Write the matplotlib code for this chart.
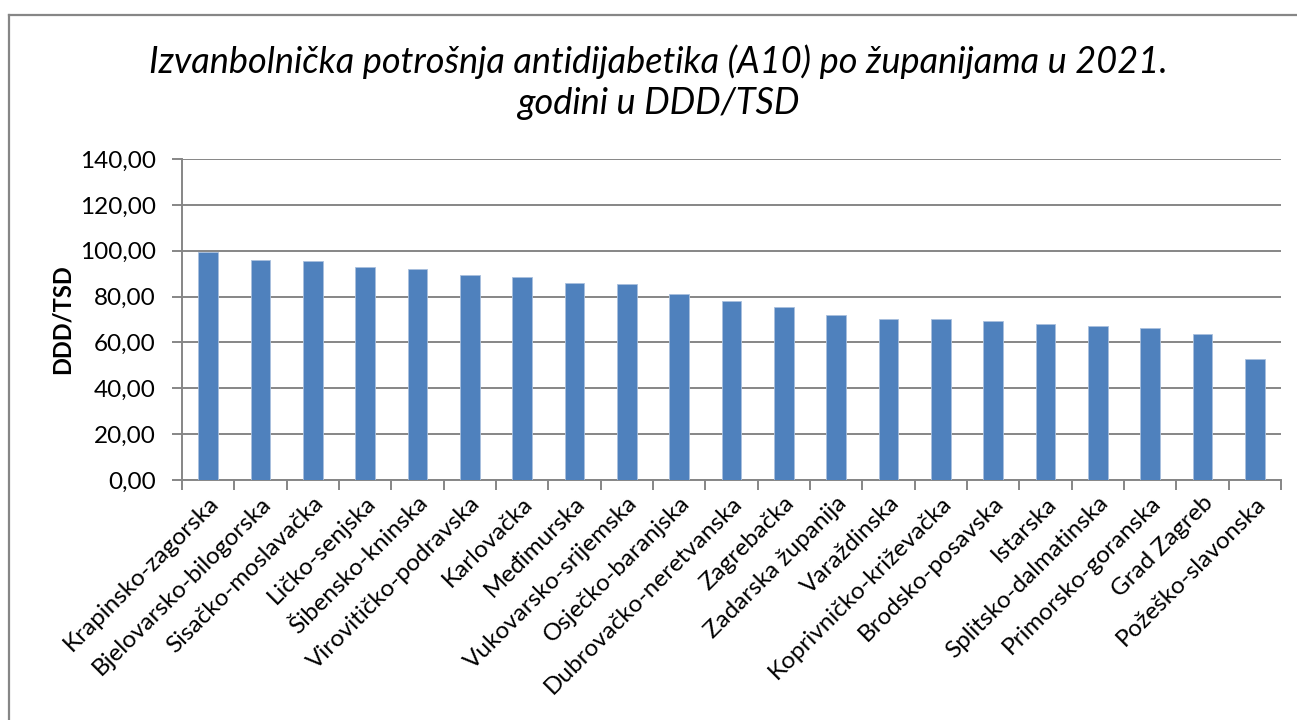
import matplotlib.pyplot as plt
from matplotlib.lines import Line2D
from matplotlib.ticker import FuncFormatter

zupanije = ['Krapinsko-zagorska', 'Bjelovarsko-bilogorska', 'Sisačko-moslavačka',
            'Ličko-senjska', 'Šibensko-kninska', 'Virovitičko-podravska', 'Karlovačka',
            'Međimurska', 'Vukovarsko-srijemska', 'Osječko-baranjska',
            'Dubrovačko-neretvanska', 'Zagrebačka', 'Zadarska županija', 'Varaždinska',
            'Koprivničko-križevačka', 'Brodsko-posavska', 'Istarska',
            'Splitsko-dalmatinska', 'Primorsko-goranska', 'Grad Zagreb',
            'Požeško-slavonska']
ddd_tsd = [99.3, 96.1, 95.5, 93.0, 92.0, 89.5, 88.6, 85.9, 85.7, 81.2, 78.0,
           75.4, 71.9, 70.3, 70.2, 69.3, 68.1, 67.1, 66.1, 63.8, 52.6]
y_ticks = [0, 20, 40, 60, 80, 100, 120, 140]
naslov = ['Izvanbolnička potrošnja antidijabetika (A10) po županijama u 2021.',
          'godini u DDD/TSD']

plt.rcParams['font.family'] = ['Lato', 'DejaVu Sans']
siva = '#868686'

fig = plt.figure(figsize=(12.97, 7.2), dpi=100)
ax = fig.add_axes([182 / 1297, 1 - 480 / 720, (1281 - 182) / 1297, (480 - 159) / 720])

x = list(range(len(zupanije)))
ax.bar(x, ddd_tsd, width=0.38, color='#4F81BD', edgecolor='#a9c0dd', linewidth=0.6, zorder=3)

ax.set_xlim(-0.5, len(zupanije) - 0.5)
ax.set_ylim(0, 140)
ax.set_yticks(y_ticks)
ax.yaxis.set_major_formatter(FuncFormatter(lambda v, p: f'{v:.2f}'.replace('.', ',')))
ax.grid(axis='y', color=siva, linewidth=1.4, zorder=0)

ax.set_xticks(x)
ax.set_xticklabels(zupanije, rotation=45, ha='right', rotation_mode='anchor', fontsize=17.5)
ax.tick_params(axis='x', length=0, pad=9)
ax.set_xticks([i - 0.5 for i in range(len(zupanije) + 1)], minor=True)
ax.tick_params(axis='x', which='minor', length=7, color=siva, width=1.4)
ax.tick_params(axis='y', length=7, color=siva, width=1.4, labelsize=17.5, pad=12)

for s in ['top', 'right']:
    ax.spines[s].set_visible(False)
for s in ['left', 'bottom']:
    ax.spines[s].set_color(siva)
    ax.spines[s].set_linewidth(1.4)

ax.set_ylabel('DDD/TSD', fontsize=17, fontweight='bold', labelpad=4)

# naslov u dva reda
fig.text(658 / 1297, 1 - 62 / 720, naslov[0], ha='center', va='center',
         fontsize=26, style='italic')
fig.text(658 / 1297, 1 - 104 / 720, naslov[1], ha='center', va='center',
         fontsize=26, style='italic')

# okvir grafikona
fig.add_artist(Line2D([9 / 1297, 9 / 1297], [0, 1 - 15 / 720], color=siva, lw=1.6,
                      transform=fig.transFigure))
fig.add_artist(Line2D([9 / 1297, 1], [1 - 15 / 720, 1 - 15 / 720], color=siva, lw=1.6,
                      transform=fig.transFigure))

fig.savefig('out.png', dpi=100)
